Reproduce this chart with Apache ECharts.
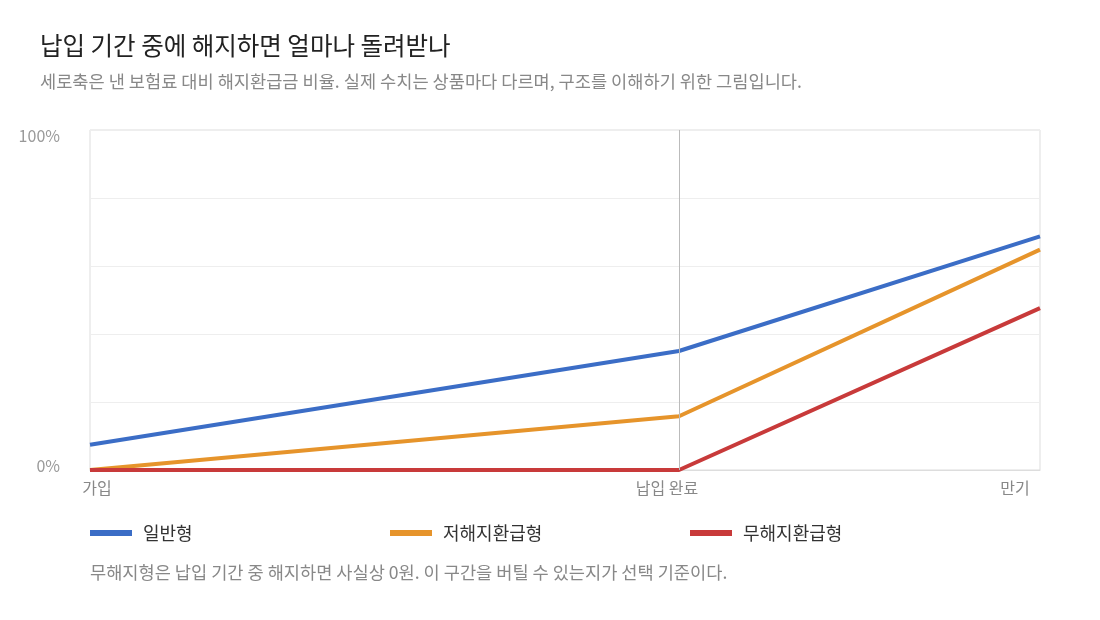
<!DOCTYPE html>
<html>
<head>
<meta charset="utf-8">
<script src="https://cdn.jsdelivr.net/npm/echarts@6/dist/echarts.min.js"></script>
<style>
  html, body { margin: 0; padding: 0; background: #fff; }
  #chart { width: 1100px; height: 620px; }
</style>
</head>
<body>
<div id="chart"></div>
<script>
// x 위치: 가입(0) / 납입 완료(62) / 만기(100)
const xPoints = [0, 62, 100];
const xLabels = ['가입', '납입 완료', '만기'];
const seriesNames = ['일반형', '저해지환급형', '무해지환급형'];
const normalVals = [7.4, 35, 68.7];
const lowVals = [0, 15.8, 64.8];
const noRefundVals = [0, 0, 47.6];
const colors = ['#3b6dc6', '#e6942b', '#c83a3a'];

const font = '"Noto Sans CJK KR", "Noto Sans", sans-serif';

function pairs(vals) {
  return xPoints.map((x, i) => [x, vals[i]]);
}

let chart = echarts.init(document.getElementById('chart'));

let option = {
  backgroundColor: '#fff',
  textStyle: { fontFamily: font },
  title: [
    {
      text: '납입 기간 중에 해지하면 얼마나 돌려받나',
      left: 35, top: 28,
      textStyle: { fontSize: 24.5, fontWeight: 'normal', color: '#222', fontFamily: font }
    },
    {
      text: '세로축은 낸 보험료 대비 해지환급금 비율. 실제 수치는 상품마다 다르며, 구조를 이해하기 위한 그림입니다.',
      left: 35, top: 68,
      textStyle: { fontSize: 17.6, fontWeight: 'normal', color: '#888', fontFamily: font }
    },
    {
      text: '무해지형은 납입 기간 중 해지하면 사실상 0원. 이 구간을 버틸 수 있는지가 선택 기준이다.',
      left: 85, top: 559,
      textStyle: { fontSize: 17.6, fontWeight: 'normal', color: '#888', fontFamily: font }
    }
  ],
  legend: seriesNames.map((n, i) => ({
    data: [n],
    left: 85 + i * 300,
    top: 519,
    icon: 'rect',
    itemWidth: 42,
    itemHeight: 6,
    textStyle: { fontSize: 18, color: '#333', fontFamily: font, padding: [0, 0, 0, 6] }
  })),
  grid: {
    left: 90, right: 60, top: 130, bottom: 150,
    show: true, borderColor: '#ddd', borderWidth: 1
  },
  xAxis: {
    type: 'value',
    min: 0, max: 100,
    axisLine: { show: true, lineStyle: { color: '#ddd' } },
    axisTick: { show: false },
    splitLine: { show: false },
    axisLabel: {
      customValues: xPoints,
      margin: 10,
      fontSize: 16,
      color: '#888',
      formatter: v => {
        const idx = xPoints.indexOf(v);
        return ['{a|', '{b|', '{c|'][idx] + xLabels[idx] + '}';
      },
      rich: {
        a: { fontSize: 16, color: '#888', padding: [0, 0, 0, 14] },
        b: { fontSize: 16, color: '#888', padding: [0, 24, 0, 0] },
        c: { fontSize: 16, color: '#888', padding: [0, 50, 0, 0] }
      }
    }
  },
  yAxis: {
    type: 'value',
    min: 0, max: 100, interval: 20,
    axisLine: { show: false },
    axisTick: { show: false },
    splitLine: { show: true, lineStyle: { color: '#eee' } },
    axisLabel: {
      margin: 30,
      fontSize: 16,
      color: '#999',
      formatter: v => v === 100 ? '{t|100%}' : (v === 0 ? '{d|0%}' : ''),
      rich: {
        t: { fontSize: 16, color: '#999', padding: [12, 0, 0, 0] },
        d: { fontSize: 16, color: '#999', padding: [0, 0, 8, 0] }
      }
    }
  },
  series: [
    {
      name: seriesNames[0], type: 'line', data: pairs(normalVals),
      showSymbol: false, lineStyle: { width: 4, color: colors[0] }, itemStyle: { color: colors[0] },
      markLine: {
        silent: true, symbol: 'none',
        label: { show: false },
        lineStyle: { color: '#bbb', width: 1, type: 'solid' },
        data: [{ xAxis: xPoints[1] }]
      }
    },
    {
      name: seriesNames[1], type: 'line', data: pairs(lowVals),
      showSymbol: false, lineStyle: { width: 4, color: colors[1] }, itemStyle: { color: colors[1] }
    },
    {
      name: seriesNames[2], type: 'line', data: pairs(noRefundVals),
      showSymbol: false, lineStyle: { width: 4, color: colors[2] }, itemStyle: { color: colors[2] }
    }
  ]
};

chart.setOption(option);
window.onresize = () => {
  chart.resize();
};
</script>
</body>
</html>
